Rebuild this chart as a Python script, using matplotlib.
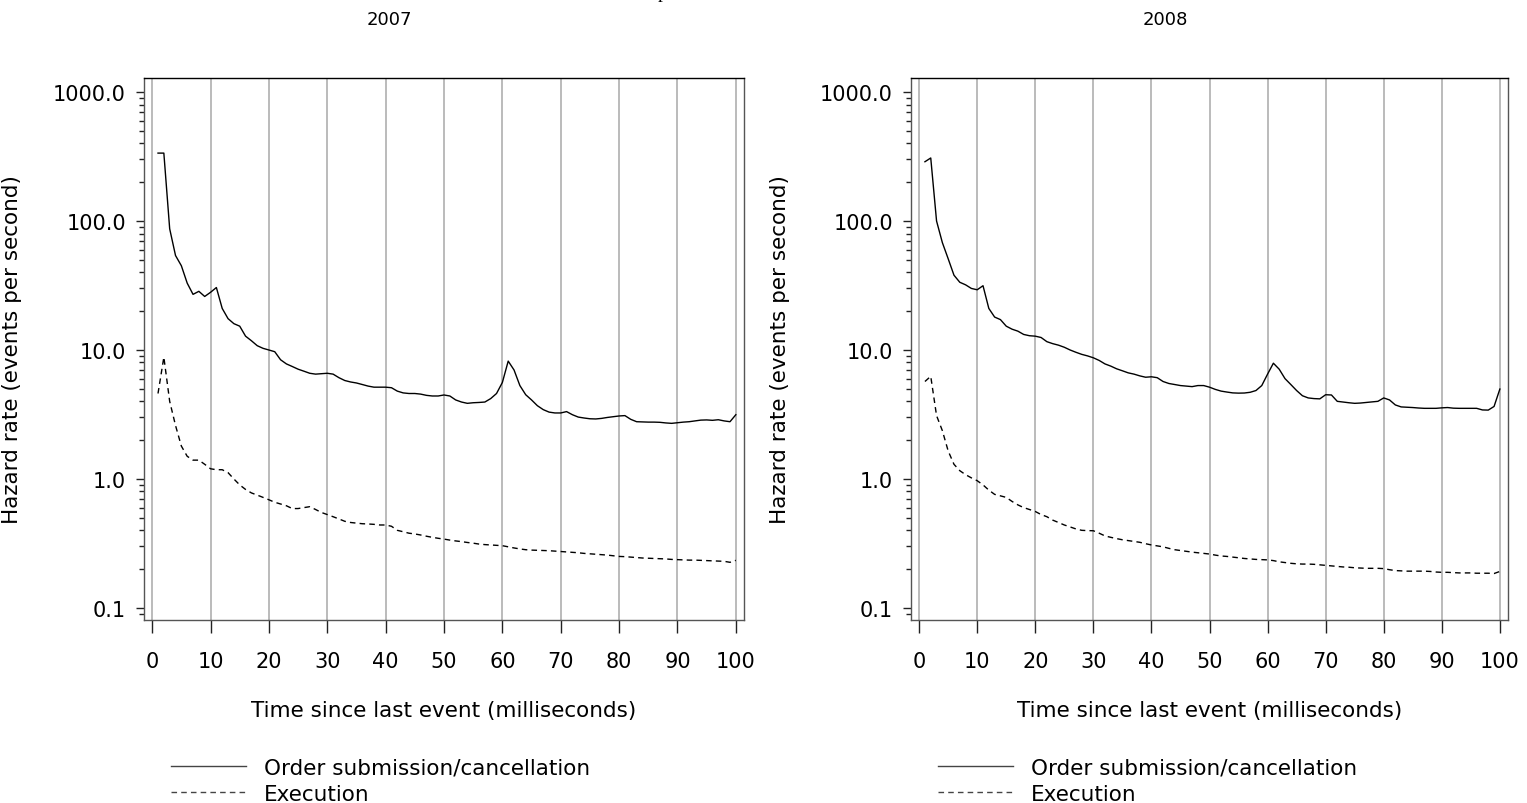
import numpy as np
import matplotlib
matplotlib.use("Agg")
import matplotlib.pyplot as plt
from matplotlib.ticker import LogLocator, FixedLocator, FuncFormatter, NullFormatter

# time since last event, 1..100 ms
ms = list(range(1, 101))

order_2007 = [336, 336, 87, 54, 45, 33, 27, 28.5, 26, 28,
              30.5, 21, 17.5, 16, 15.3, 12.8, 11.8, 10.8, 10.3, 10.0,
              9.7, 8.4, 7.8, 7.45, 7.1, 6.85, 6.6, 6.5, 6.55, 6.6,
              6.5, 6.1, 5.8, 5.65, 5.55, 5.4, 5.25, 5.15, 5.15, 5.15,
              5.1, 4.8, 4.65, 4.6, 4.6, 4.55, 4.45, 4.4, 4.4, 4.48,
              4.4, 4.1, 3.95, 3.86, 3.9, 3.92, 3.95, 4.2, 4.6, 5.6,
              8.2, 7.0, 5.3, 4.5, 4.1, 3.7, 3.45, 3.3, 3.25, 3.25,
              3.33, 3.15, 3.02, 2.97, 2.93, 2.92, 2.95, 3.0, 3.04, 3.08,
              3.1, 2.9, 2.78, 2.77, 2.76, 2.76, 2.75, 2.72, 2.7, 2.73,
              2.76, 2.78, 2.82, 2.86, 2.87, 2.85, 2.88, 2.82, 2.78, 3.15]

exec_2007 = [4.6, 8.8, 4.0, 2.6, 1.8, 1.5, 1.4, 1.4, 1.3, 1.2,
             1.18, 1.18, 1.12, 1.0, 0.9, 0.83, 0.78, 0.75, 0.72, 0.69,
             0.66, 0.64, 0.62, 0.59, 0.59, 0.6, 0.61, 0.58, 0.55, 0.53,
             0.51, 0.49, 0.47, 0.46, 0.455, 0.45, 0.448, 0.445, 0.44, 0.44,
             0.43, 0.40, 0.39, 0.38, 0.375, 0.368, 0.36, 0.353, 0.347, 0.342,
             0.336, 0.331, 0.327, 0.322, 0.318, 0.313, 0.31, 0.308, 0.306, 0.304,
             0.298, 0.292, 0.287, 0.283, 0.281, 0.28, 0.279, 0.278, 0.276, 0.274,
             0.272, 0.27, 0.268, 0.265, 0.263, 0.261, 0.259, 0.257, 0.254, 0.251,
             0.25, 0.248, 0.246, 0.244, 0.243, 0.242, 0.241, 0.24, 0.238, 0.237,
             0.236, 0.235, 0.235, 0.234, 0.233, 0.232, 0.231, 0.23, 0.226, 0.234]

order_2008 = [288, 308, 100, 68, 51, 38, 33.5, 32, 30, 29.3,
              31.5, 21, 18, 17.2, 15.3, 14.5, 14, 13.2, 12.9, 12.8,
              12.5, 11.6, 11.2, 10.9, 10.5, 10.0, 9.6, 9.25, 9.0, 8.7,
              8.3, 7.8, 7.5, 7.15, 6.9, 6.65, 6.5, 6.3, 6.15, 6.2,
              6.1, 5.7, 5.5, 5.4, 5.3, 5.25, 5.2, 5.3, 5.3, 5.15,
              4.95, 4.8, 4.72, 4.65, 4.63, 4.64, 4.7, 4.85, 5.3, 6.5,
              7.9, 7.1, 6.0, 5.4, 4.85, 4.42, 4.25, 4.2, 4.18, 4.5,
              4.48, 4.0, 3.95, 3.9, 3.86, 3.88, 3.92, 3.96, 4.0, 4.25,
              4.1, 3.75, 3.62, 3.6, 3.58, 3.55, 3.53, 3.53, 3.53, 3.56,
              3.58, 3.54, 3.53, 3.53, 3.53, 3.53, 3.43, 3.42, 3.65, 4.98]

exec_2008 = [5.7, 6.25, 3.1, 2.37, 1.65, 1.3, 1.16, 1.08, 1.02, 0.97,
             0.9, 0.82, 0.76, 0.74, 0.72, 0.67, 0.63, 0.6, 0.58, 0.56,
             0.53, 0.51, 0.48, 0.46, 0.44, 0.425, 0.41, 0.4, 0.398, 0.397,
             0.38, 0.362, 0.353, 0.345, 0.338, 0.333, 0.328, 0.323, 0.315, 0.308,
             0.303, 0.298, 0.29, 0.283, 0.279, 0.275, 0.271, 0.268, 0.265, 0.262,
             0.257, 0.253, 0.251, 0.248, 0.245, 0.242, 0.24, 0.238, 0.237, 0.236,
             0.233, 0.228, 0.225, 0.222, 0.22, 0.219, 0.219, 0.218, 0.216, 0.214,
             0.212, 0.21, 0.208, 0.207, 0.205, 0.204, 0.203, 0.203, 0.203, 0.202,
             0.198, 0.195, 0.194, 0.193, 0.193, 0.193, 0.193, 0.192, 0.19, 0.189,
             0.189, 0.188, 0.187, 0.187, 0.187, 0.186, 0.186, 0.186, 0.185, 0.192]

years = ["2007", "2008"]
x_ticks = list(range(0, 101, 10))
y_ticks = [0.1, 1.0, 10.0, 100.0, 1000.0]
labels = ["Order submission/cancellation", "Execution"]

W, H = 1527, 804
fig = plt.figure(figsize=(W / 100, H / 100), dpi=100)
FS = 15


def panel(left_px, right_px, year, title_x, order, execu):
    ax = fig.add_axes([left_px / W, 1 - 621 / H, (right_px - left_px) / W, (621 - 79) / H])
    ax.set_yscale("log")
    l1, = ax.plot(ms, order, color="black", lw=1.0, zorder=3)
    l2, = ax.plot(ms, execu, color="black", lw=1.0, dashes=(4, 3), zorder=3)
    ax.set_xlim(-1.4, 101.4)
    ax.set_ylim(0.0807, 1284)
    ax.xaxis.set_major_locator(FixedLocator(x_ticks))
    ax.yaxis.set_major_locator(FixedLocator(y_ticks))
    ax.yaxis.set_minor_locator(LogLocator(base=10, subs=np.arange(2, 10)))
    ax.yaxis.set_major_formatter(FuncFormatter(lambda v, p: "%.1f" % v))
    ax.yaxis.set_minor_formatter(NullFormatter())
    ax.grid(axis="x", color="#a8a8a8", lw=1.1, zorder=1)
    ax.tick_params(axis="x", direction="out", length=9.5, width=1.0, pad=13,
                   labelsize=FS, color="#222222")
    ax.tick_params(axis="y", which="major", direction="out", length=6, width=1.0,
                   pad=7, labelsize=FS, color="#222222")
    ax.tick_params(axis="y", which="minor", direction="out", length=3.6, width=1.0,
                   color="#222222")
    for s in ax.spines.values():
        s.set_color("#555555")
        s.set_linewidth(1.0)
    ax.spines["top"].set_color("black")
    ax.set_xlabel("Time since last event (milliseconds)", fontsize=FS + 0.5, labelpad=21)
    ax.set_ylabel("Hazard rate (events per second)", fontsize=FS + 0.5)
    ax.yaxis.set_label_coords(-0.203, 0.5)
    fig.text(title_x / W, 1 - 20 / H, year, ha="center", va="center", fontsize=13)
    leg = ax.legend([l1, l2], labels, loc="upper left",
                    bbox_to_anchor=((left_px + 27) / W, 1 - 759 / H),
                    bbox_transform=fig.transFigure, frameon=False, fontsize=FS + 0.5,
                    handlelength=3.5, handletextpad=0.8, labelspacing=0.26,
                    borderpad=0, borderaxespad=0)
    for h in leg.get_lines():
        h.set_color("#444444")
    return ax


panel(144, 744, years[0], 389, order_2007, exec_2007)
panel(911, 1508, years[1], 1165, order_2008, exec_2008)

# clipped fragment of a heading above the figure edge
fig.text(662 / W, 1 + 2 / H, "p", ha="center", va="baseline", fontsize=14,
         family="Liberation Serif")

fig.savefig("out.png", dpi=100)
